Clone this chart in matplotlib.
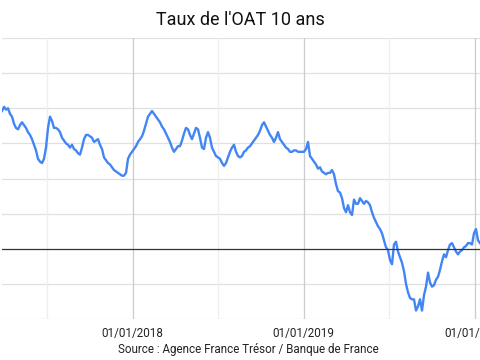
import numpy as np
import pandas as pd
import matplotlib
matplotlib.use('Agg')
import matplotlib.pyplot as plt
import matplotlib.dates as mdates

plt.rcParams['font.family'] = ['Roboto', 'DejaVu Sans']

# taux OAT 10 ans (%), relevé environ tous les 4 jours, du 28/03/2017 au 12/01/2020
start_date = '2017-03-28'
end_date = '2020-01-12'
oat_rate = [
    0.98, 1.01, 0.99, 1.00, 0.96, 0.94, 0.89, 0.86, 0.85, 0.88,
    0.90, 0.88, 0.86, 0.83, 0.81, 0.78, 0.74, 0.70, 0.64, 0.62,
    0.61, 0.64, 0.72, 0.86, 0.94, 0.91, 0.86, 0.86, 0.85, 0.83,
    0.79, 0.77, 0.75, 0.74, 0.72, 0.74, 0.71, 0.70, 0.68,
    0.67, 0.72, 0.78, 0.81, 0.81, 0.80, 0.79, 0.76, 0.77, 0.78,
    0.74, 0.71, 0.65, 0.63, 0.61, 0.60, 0.58, 0.56, 0.55, 0.54,
    0.53, 0.52, 0.52, 0.54, 0.64, 0.67, 0.69, 0.71, 0.73, 0.76,
    0.78, 0.80, 0.84, 0.89, 0.94, 0.96, 0.98, 0.96, 0.94, 0.92,
    0.90, 0.87, 0.85, 0.82, 0.79, 0.76, 0.72, 0.69, 0.71, 0.73,
    0.73, 0.77, 0.82, 0.86, 0.85, 0.81, 0.78, 0.82, 0.86, 0.85,
    0.79, 0.72, 0.71, 0.79, 0.83, 0.79, 0.72, 0.69, 0.66, 0.65,
    0.64, 0.61, 0.59, 0.61, 0.65, 0.69, 0.72, 0.74, 0.69, 0.66,
    0.65, 0.66, 0.69, 0.70, 0.72, 0.73, 0.75, 0.77, 0.79, 0.81,
    0.84, 0.88, 0.90, 0.87, 0.84, 0.81, 0.79, 0.76, 0.79, 0.83,
    0.78, 0.76, 0.74, 0.72, 0.71, 0.69, 0.69, 0.70, 0.70, 0.69,
    0.69, 0.69, 0.69, 0.71, 0.76, 0.66, 0.64, 0.62, 0.60, 0.57,
    0.58, 0.55, 0.54, 0.53, 0.54, 0.54, 0.56, 0.53, 0.46, 0.41,
    0.40, 0.36, 0.29, 0.26, 0.31, 0.26, 0.24, 0.35, 0.32, 0.32,
    0.36, 0.34, 0.32, 0.34, 0.33, 0.31, 0.26, 0.22, 0.19, 0.16,
    0.14, 0.11, 0.06, 0.01, -0.01, -0.08, -0.11, 0.03, 0.05, -0.02,
    -0.06, -0.10, -0.16, -0.25, -0.31, -0.35, -0.36, -0.36, -0.44, -0.41,
    -0.36, -0.44, -0.33, -0.27, -0.17, -0.24, -0.27, -0.26, -0.22, -0.20,
    -0.15, -0.09, -0.04, -0.06, -0.01, 0.03, 0.04, 0.01, -0.02, -0.04,
    -0.02, -0.01, 0.01, 0.02, 0.04, 0.04, 0.03, 0.11, 0.14, 0.06, 0.04,
]
dates = pd.date_range(start_date, end_date, periods=len(oat_rate))

y_ticks = [-0.5, -0.25, 0, 0.25, 0.5, 0.75, 1.0, 1.25, 1.5]
x_major = ['2018-01-01', '2019-01-01', '2020-01-01']
x_minor = ['2017-07-01', '2018-07-01', '2019-07-01']

fig = plt.figure(figsize=(4.8, 3.6), dpi=100)
ax = fig.add_axes([2 / 480, 41 / 360, 478 / 480, 281 / 360])

# grille
for v in y_ticks:
    if v == 0:
        continue
    ax.axhline(v, color='#e0e0e0', lw=0.9, zorder=0)
for d in x_minor:
    ax.axvline(pd.Timestamp(d), color='#eeeeee', lw=0.9, zorder=0)
for d in x_major:
    ax.axvline(pd.Timestamp(d), color='#cccccc', lw=0.9, zorder=0)

ax.plot(dates, oat_rate, color='#4285f4', lw=1.7, zorder=2)
ax.axhline(0, color='#333333', lw=0.9, zorder=3)

ax.set_ylim(-0.5, 1.5)
ax.set_xlim(pd.Timestamp(start_date), pd.Timestamp(end_date))
ax.set_yticks([])
ax.set_xticks([pd.Timestamp(d) for d in x_major])
ax.xaxis.set_major_formatter(mdates.DateFormatter('%d/%m/%Y'))
ax.tick_params(axis='x', length=0, pad=6, labelsize=8.4, labelcolor='#222222')
for s in ax.spines.values():
    s.set_visible(False)

fig.text(0.5, 1 - 20 / 360, "Taux de l'OAT 10 ans", ha='center', va='center',
         fontsize=13, color='#111111')
fig.text(248 / 480, 1 - 349 / 360, 'Source : Agence France Trésor / Banque de France',
         ha='center', va='center', fontsize=8.4, color='#222222')

fig.savefig('out.png', dpi=100)
